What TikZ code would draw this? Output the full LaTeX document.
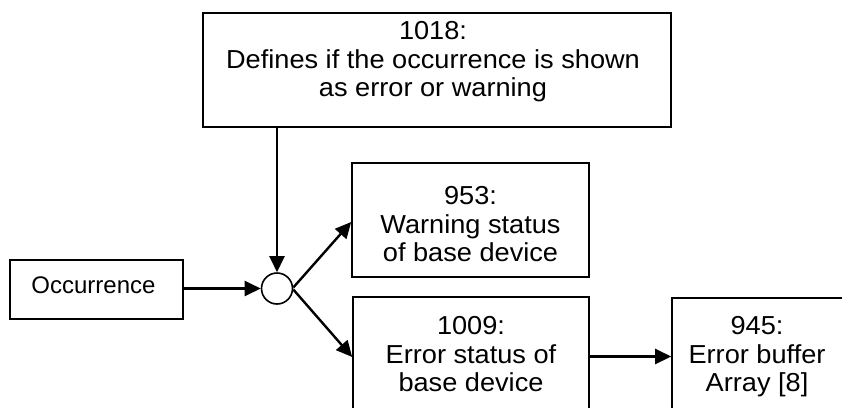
\documentclass[tikz,border=0pt]{standalone}
\usepackage{fontspec}
\setmainfont{Liberation Sans}
\newfontfamily\widefont[FakeStretch=1.045]{Liberation Sans}
\usetikzlibrary{arrows.meta,calc}
\begin{document}
\begin{tikzpicture}[x=1pt,y=-1pt,
  box/.style={draw, line width=1.6pt, inner sep=0pt},
  txt/.style={inner sep=0pt, align=center, font=\widefont\fontsize{26}{28.5}\selectfont},
  arr/.style={line width=2.4pt, -{Triangle[length=16pt,width=15pt]}}]
\useasboundingbox (0,0) rectangle (842,407);
\clip (0,0) rectangle (842,407);
% boxes
\node[box, minimum width=468, minimum height=114] (t) at (437,70) {};
\node[box, minimum width=173, minimum height=59] (o) at (96.5,289.5) {};
\node[draw, circle, line width=1.6pt, minimum size=31, inner sep=0pt] (c) at (277,288.5) {};
\node[box, minimum width=237, minimum height=114] (w) at (470.5,220) {};
\node[box, minimum width=236, minimum height=119] (e) at (471,356.5) {};
\node[box, minimum width=176, minimum height=119] (b) at (760,357.5) {};
% texts
\node[txt] (tt) at (433,62) {1018:\\Defines if the occurrence is shown\\as error or warning};
\node[txt, font=\fontsize{24}{28.5}\selectfont] (ot) at (93.5,285) {Occurrence};
\node[txt] (wt) at (470.5,224.2) {953:\\Warning status\\of base device};
\node[txt] (et) at (471,354.5) {1009:\\Error status of\\base device};
\node[txt] (bt) at (757,357) {945:\\Error buffer\\Array [8]};
% connectors
\draw[arr] (t.south -| c) -- (c.north);
\draw[arr] (o.east |- c) -- (c.west);
\draw[arr] ($(c.east)+(0,-1)$) -- ($(w.west)+(0,2)$);
\draw[arr] ($(c.east)+(0,1)$) -- ($(e.west)+(0,0.5)$);
\draw[arr] (e.east) -- (b.west |- e.east);
\end{tikzpicture}
\end{document}
